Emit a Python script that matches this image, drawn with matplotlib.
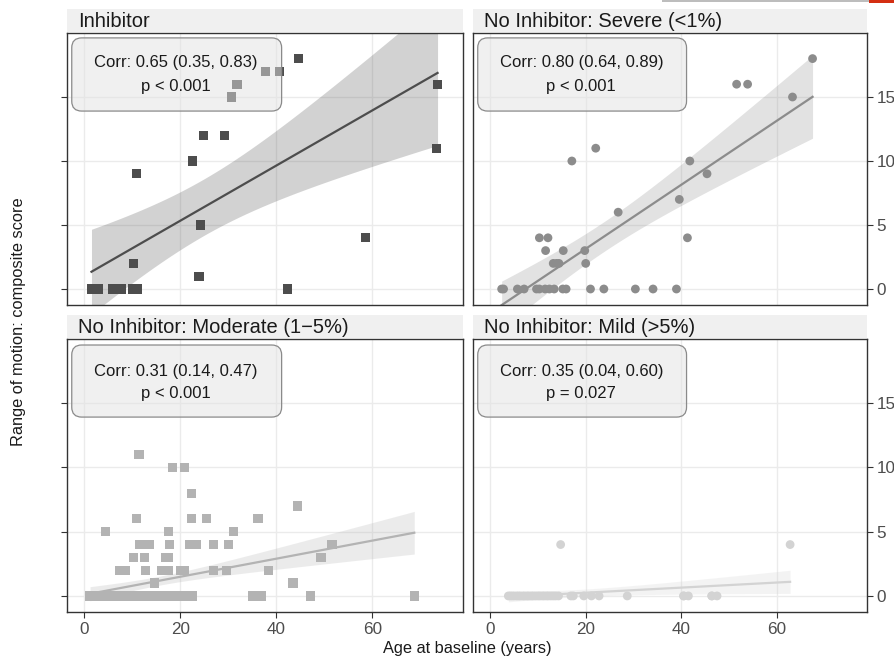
import numpy as np
import matplotlib
matplotlib.use("Agg")
import matplotlib.pyplot as plt
from matplotlib.patches import FancyBboxPatch, Rectangle

plt.rcParams['font.family'] = ['Liberation Sans', 'DejaVu Sans']

# ---------------- data ----------------
panel_titles = ["Inhibitor", "No Inhibitor: Severe (<1%)",
                "No Inhibitor: Moderate (1\u22125%)", "No Inhibitor: Mild (>5%)"]
corr_labels = ["Corr: 0.65 (0.35, 0.83)", "Corr: 0.80 (0.64, 0.89)",
               "Corr: 0.31 (0.14, 0.47)", "Corr: 0.35 (0.04, 0.60)"]
p_labels = ["p < 0.001", "p < 0.001", "p < 0.001", "p = 0.027"]

inh_x = [1.5, 2.9, 6.0, 7.8, 10.1, 11.0, 1.5, 2.9, 7.8, 11.0,
         10.3, 10.9, 23.9, 24.2, 22.6, 24.9,
         29.2, 30.7, 31.8, 37.8, 40.7, 44.7, 42.4, 58.6, 73.6, 73.4]
inh_y = [0, 0, 0, 0, 0, 0, 0, 0, 0, 0,
         2, 9, 1, 5, 10, 12,
         12, 15, 16, 17, 17, 18, 0, 4, 16, 11]

sev_x = [2.4, 2.8, 5.7, 7.1, 9.7, 10.3, 11.5, 12.4, 13.4, 15.2, 15.9, 21.0,
         23.8, 30.4, 34.1, 39.0, 10.3, 12.1, 11.6, 15.3, 13.2, 13.9, 14.4,
         19.8, 20.0, 17.1, 22.1, 26.8, 39.6, 41.3, 41.8, 45.4, 51.6, 53.9,
         63.3, 67.5]
sev_y = [0, 0, 0, 0, 0, 0, 0, 0, 0, 0, 0, 0,
         0, 0, 0, 0, 4, 4, 3, 3, 2, 2, 2,
         3, 2, 10, 11, 6, 7, 4, 10, 9, 16, 16,
         15, 18]

mod_x = [1.2, 1.5, 2.0, 2.4, 3.0, 3.3, 3.8, 4.1, 4.6, 5.0, 5.5, 6.0, 6.3, 6.8,
         7.2, 7.7, 8.0, 8.4, 9.0, 9.3, 9.9, 10.2, 10.7, 11.0, 11.5, 12.0, 12.3,
         12.8, 13.2, 13.7, 14.0, 14.6, 15.0, 15.4, 16.0, 16.3, 16.9, 17.2, 17.8,
         18.1, 18.6, 19.0, 19.5, 20.0, 20.4, 21.0, 21.3, 21.8, 22.2, 22.6,
         1.4, 2.2, 2.8, 3.5, 4.3, 4.9, 5.8, 6.6, 7.4, 8.2, 8.8, 9.6, 10.4, 11.2,
         11.8, 12.5, 13.4, 14.3, 15.2, 15.8, 16.6, 17.5, 18.4, 19.3, 20.2, 21.1,
         22.0, 3.6, 7.0, 10.0,
         1.8, 2.6, 3.2, 4.0, 4.8, 5.3, 6.1, 6.9, 7.5, 8.6, 9.1, 9.8, 10.5, 11.4,
         12.2, 13.0, 14.1, 15.6, 2.9, 5.6,
         35.1, 36.9, 47.2, 68.75,
         11.4, 18.4, 20.8, 22.4, 44.4, 10.8, 22.4, 25.5, 36.2, 4.5, 17.6, 31.1,
         11.6, 13.5, 17.8, 21.9, 23.4, 27.0, 30.1, 51.6, 10.3, 12.6, 16.9, 17.5,
         49.3, 7.4, 8.5, 12.8, 16.1, 17.5, 20.1, 20.9, 27.0, 29.7, 38.3, 14.7,
         43.5, 30.1, 31.1, 51.6]
mod_y = [0] * 100 + [0, 0, 0, 0,
         11, 10, 10, 8, 7, 6, 6, 6, 6, 5, 5, 5,
         4, 4, 4, 4, 4, 4, 4, 4, 3, 3, 3, 3,
         3, 2, 2, 2, 2, 2, 2, 2, 2, 2, 2, 1,
         1, 4, 5, 4]

mild_x = [3.8, 4.2, 4.6, 5.0, 5.5, 5.9, 6.3, 6.8, 7.2, 7.7, 8.1, 8.6, 9.0, 9.5,
          10.0, 10.4, 10.9, 11.3, 11.8, 12.2, 12.7, 13.2, 13.7, 14.3,
          16.9, 17.4, 19.6, 21.2, 22.8, 28.7, 40.5, 41.5, 46.4, 47.5,
          40.5, 46.4,
          14.75, 62.8]
mild_y = [0] * 36 + [4, 4]

x_ticks = [0, 20, 40, 60]
y_ticks = [0, 5, 10, 15]

datasets = [(inh_x, inh_y), (sev_x, sev_y), (mod_x, mod_y), (mild_x, mild_y)]
colors = ["#4d4d4d", "#8c8c8c", "#b3b3b3", "#d3d3d3"]
markers = ["s", "o", "s", "o"]

# ---------------- helpers ----------------
def t975(df):
    z = 1.959964
    return (z + (z**3 + z) / (4 * df) + (5 * z**5 + 16 * z**3 + 3 * z) / (96 * df**2)
            + (3 * z**7 + 19 * z**5 + 17 * z**3 - 15 * z) / (384 * df**3))

def fit_band(x, y):
    x = np.asarray(x, float); y = np.asarray(y, float)
    n = len(x)
    b, a = np.polyfit(x, y, 1)
    xs = np.linspace(x.min(), x.max(), 80)
    yhat = a + b * xs
    resid = y - (a + b * x)
    s = np.sqrt(np.sum(resid**2) / (n - 2))
    sxx = np.sum((x - x.mean())**2)
    se = s * np.sqrt(1.0 / n + (xs - x.mean())**2 / sxx)
    t = t975(n - 2)
    return xs, yhat, yhat - t * se, yhat + t * se

# ---------------- figure ----------------
W, H = 895, 665
fig = plt.figure(figsize=(W / 100, H / 100), dpi=100)

# panel pixel boxes (left, top, right, bottom)
boxes = [(67, 33, 463, 305), (473, 33, 867, 305),
         (67, 339, 463, 612), (473, 339, 867, 612)]
strip_h = 23

for i, (l, t, r, b) in enumerate(boxes):
    ax = fig.add_axes([l / W, 1 - b / H, (r - l) / W, (b - t) / H])
    x, y = datasets[i]
    col = colors[i]
    ax.set_xlim(-3.6, 78.9)
    ax.set_ylim(-1.25, 20.0)
    ax.set_xticks(x_ticks)
    ax.set_yticks(y_ticks)
    ax.grid(True, color="#ebebeb", lw=1.0, zorder=0)
    ax.set_axisbelow(True)
    for sp in ax.spines.values():
        sp.set_color("#333333")
        sp.set_linewidth(1.0)

    xs, yh, lo, hi = fit_band(x, y)
    ax.fill_between(xs, lo, hi, color=col, alpha=0.25, lw=0, zorder=1)
    ax.plot(xs, yh, color=col, lw=1.6, zorder=2)
    ax.scatter(x, y, marker=markers[i], s=44 if markers[i] == "s" else 40,
               color=col, edgecolors="none", zorder=3)

    # y axis
    if i % 2 == 0:
        ax.tick_params(axis="y", left=True, labelleft=False, right=False,
                       labelright=False, length=4, color="#333333")
    else:
        ax.tick_params(axis="y", left=False, labelleft=False, right=True,
                       labelright=True, length=4, color="#333333",
                       labelsize=12.3, labelcolor="#4d4d4d", pad=3)
    # x axis
    if i < 2:
        ax.tick_params(axis="x", bottom=False, labelbottom=False)
    else:
        ax.tick_params(axis="x", bottom=True, labelbottom=True, length=4,
                       color="#333333", labelsize=12.3, labelcolor="#4d4d4d", pad=3)

    # annotation box
    top_f = 0.982 if i < 2 else 0.978
    bot_f = 0.713 if i < 2 else 0.714
    patch = FancyBboxPatch((0.012, bot_f), 0.53, top_f - bot_f,
                           boxstyle="round,pad=0,rounding_size=0.025",
                           transform=ax.transAxes, fc=(0.886, 0.886, 0.886, 0.5),
                           ec="#8a8a8a", lw=0.9, zorder=4, mutation_aspect=1.45)
    ax.add_patch(patch)
    l1 = 0.893 if i < 2 else 0.880
    l2 = 0.805 if i < 2 else 0.802
    ax.text(0.275, l1, corr_labels[i], transform=ax.transAxes, ha="center",
            va="center", fontsize=12, color="#1a1a1a", zorder=5)
    ax.text(0.275, l2, p_labels[i], transform=ax.transAxes, ha="center",
            va="center", fontsize=12, color="#1a1a1a", zorder=5)

    # strip
    sax = fig.add_axes([l / W, 1 - (t - 1) / H, (r - l) / W, strip_h / H])
    sax.set_facecolor("#f0f0f0")
    sax.set_xticks([]); sax.set_yticks([])
    for sp in sax.spines.values():
        sp.set_visible(False)
    sax.text(11 / (r - l), 0.45, panel_titles[i], transform=sax.transAxes,
             ha="left", va="center", fontsize=14.5, color="#1a1a1a")

fig.text(467 / W, 1 - 648 / H, "Age at baseline (years)", ha="center", va="center",
         fontsize=11.8, color="#1a1a1a")
fig.text(19 / W, 1 - 322 / H, "Range of motion: composite score", ha="center",
         va="center", rotation=90, fontsize=11.8, color="#1a1a1a")

# cropping artefact at top right
fig.patches.append(Rectangle((662 / W, 1 - 2 / H), (869 - 662) / W, 2 / H,
                             transform=fig.transFigure, fc="#bdbdbd", ec="none"))
fig.patches.append(Rectangle((869 / W, 1 - 3 / H), (895 - 869) / W, 3 / H,
                             transform=fig.transFigure, fc="#d42e12", ec="none"))

fig.savefig("out.png", dpi=100)
